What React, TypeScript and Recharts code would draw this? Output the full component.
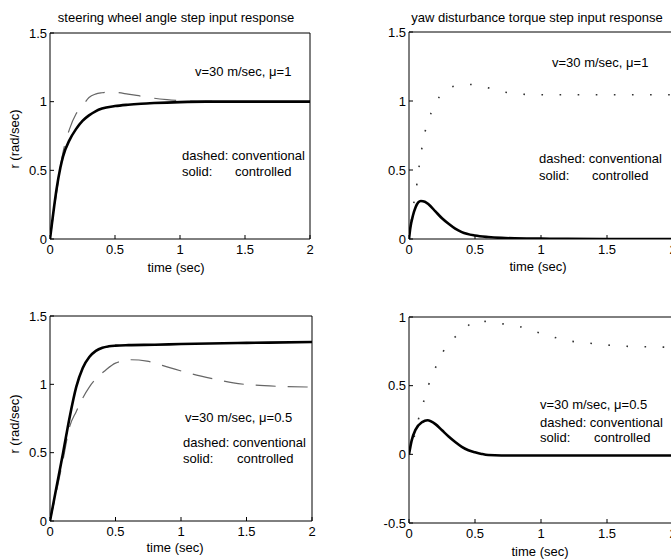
import React from 'react';
import { LineChart, Line, XAxis, YAxis, ReferenceLine } from 'recharts';

const xTicks = [0, 0.5, 1, 1.5, 2];
const yTicksPos = [0, 0.5, 1, 1.5];
const yTicksYawLow = [-0.5, 0, 0.5, 1];

// steering wheel angle step, mu = 1
const tSteerCtl1 = [0, 0.02, 0.05, 0.08, 0.1, 0.15, 0.2, 0.25, 0.3, 0.35, 0.4, 0.5, 0.6, 0.7, 0.8, 1, 1.2, 1.5, 2];
const rSteerCtl1 = [0, 0.15, 0.36, 0.52, 0.6, 0.72, 0.8, 0.86, 0.9, 0.93, 0.95, 0.968, 0.978, 0.985, 0.99, 0.997, 1.0, 1.0, 1.0];
const tSteerConv1 = [0, 0.03, 0.06, 0.1, 0.15, 0.2, 0.25, 0.3, 0.35, 0.4, 0.45, 0.5, 0.6, 0.7, 0.8, 0.9, 1, 1.2, 1.5, 2];
const rSteerConv1 = [0, 0.2, 0.4, 0.63, 0.8, 0.91, 0.97, 1.03, 1.055, 1.065, 1.07, 1.068, 1.055, 1.04, 1.025, 1.015, 1.008, 1.002, 1.0, 1.0];

// yaw disturbance torque step, mu = 1
const tYawCtl1 = [0, 0.01, 0.03, 0.05, 0.07, 0.09, 0.12, 0.15, 0.2, 0.25, 0.3, 0.35, 0.4, 0.5, 0.6, 0.7, 0.8, 1, 1.2, 1.5, 2];
const rYawCtl1 = [0, 0.08, 0.17, 0.23, 0.265, 0.275, 0.27, 0.25, 0.2, 0.15, 0.11, 0.075, 0.05, 0.025, 0.014, 0.008, 0.005, 0.003, 0.001, 0, 0];
const tYawConv1 = [0, 0.03, 0.06, 0.08, 0.12, 0.17, 0.23, 0.3, 0.38, 0.46, 0.58, 0.72, 0.85, 1, 1.25, 1.5, 1.75, 2];
const rYawConv1 = [0, 0.22, 0.4, 0.55, 0.77, 0.92, 1.03, 1.09, 1.115, 1.12, 1.1, 1.065, 1.05, 1.045, 1.045, 1.045, 1.045, 1.045];

// steering wheel angle step, mu = 0.5
const tSteerCtl05 = [0, 0.05, 0.1, 0.15, 0.2, 0.25, 0.3, 0.35, 0.4, 0.45, 0.5, 0.6, 0.8, 1, 1.5, 2];
const rSteerCtl05 = [0, 0.25, 0.5, 0.76, 0.98, 1.12, 1.2, 1.245, 1.268, 1.278, 1.283, 1.287, 1.29, 1.295, 1.303, 1.31];
const tSteerConv05 = [0, 0.05, 0.1, 0.15, 0.2, 0.25, 0.3, 0.36, 0.42, 0.5, 0.62, 0.74, 0.92, 1.07, 1.25, 1.4, 1.55, 1.75, 2];
const rSteerConv05 = [0, 0.22, 0.45, 0.69, 0.8, 0.9, 0.98, 1.05, 1.1, 1.155, 1.18, 1.17, 1.12, 1.08, 1.04, 1.01, 0.995, 0.985, 0.98];

// yaw disturbance torque step, mu = 0.5
const tYawCtl05 = [0, 0.02, 0.05, 0.1, 0.14, 0.2, 0.25, 0.3, 0.35, 0.4, 0.45, 0.5, 0.55, 0.6, 0.7, 1, 1.5, 2];
const rYawCtl05 = [0, 0.1, 0.18, 0.235, 0.248, 0.22, 0.175, 0.13, 0.09, 0.055, 0.03, 0.015, 0.003, -0.005, -0.008, -0.008, -0.008, -0.008];
const tYawConv05 = [0, 0.04, 0.07, 0.11, 0.15, 0.2, 0.26, 0.34, 0.44, 0.5, 0.6, 0.71, 0.84, 0.97, 1.09, 1.22, 1.36, 1.51, 1.64, 1.79, 2];
const rYawConv05 = [0, 0.13, 0.25, 0.38, 0.51, 0.63, 0.75, 0.845, 0.93, 0.975, 0.965, 0.95, 0.93, 0.89, 0.855, 0.825, 0.81, 0.795, 0.787, 0.783, 0.78];

const zip = (t: number[], v: number[]) => t.map((x, i) => ({ t: x, v: v[i] }));

const FONT = '"Liberation Sans", Arial, sans-serif';
const tickStyle = { fontSize: 13, fill: '#000', fontFamily: FONT };

interface PanelProps {
  left: number; top: number; width: number; height: number;
  yWidth: number; mTop: number; mRight: number; mBottom: number;
  yDomain: [number, number]; yTicks: number[];
  ctl: { t: number; v: number }[];
  conv: { t: number; v: number }[];
  convDash: string; convWidth: number; convColor: string;
}

function Panel(p: PanelProps) {
  return (
    <div style={{ position: 'absolute', left: p.left, top: p.top }}>
      <LineChart width={p.width} height={p.height}
        margin={{ top: p.mTop, right: p.mRight, bottom: p.mBottom, left: 0 }}>
        <XAxis dataKey="t" type="number" domain={[0, 2]} ticks={xTicks} allowDataOverflow
          stroke="#000" tick={tickStyle} tickSize={-4} tickMargin={10} height={20} />
        <YAxis type="number" domain={p.yDomain} ticks={p.yTicks} allowDataOverflow
          stroke="#000" tick={tickStyle} tickSize={-4} tickMargin={7} width={p.yWidth} />
        <ReferenceLine y={p.yDomain[1]} stroke="#000" />
        <ReferenceLine x={2} stroke="#000" />
        <Line data={p.conv} dataKey="v" type="monotone" stroke={p.convColor} strokeWidth={p.convWidth}
          strokeDasharray={p.convDash} dot={false} isAnimationActive={false} />
        <Line data={p.ctl} dataKey="v" type="monotone" stroke="#000" strokeWidth={2.6}
          dot={false} isAnimationActive={false} />
      </LineChart>
    </div>
  );
}

function Txt({ x, y, children, size = 13, center = false, rotate = false }:
  { x: number; y: number; children: React.ReactNode; size?: number; center?: boolean; rotate?: boolean }) {
  const tf = rotate ? 'translate(-50%,-50%) rotate(-90deg)' : center ? 'translate(-50%,-50%)' : 'translateY(-50%)';
  return (
    <div style={{
      position: 'absolute', left: x, top: y, transform: tf, whiteSpace: 'pre',
      fontSize: size, lineHeight: 1, fontFamily: FONT, color: '#000',
    }}>{children}</div>
  );
}

export default function App() {
  return (
    <div style={{ position: 'absolute', left: 0, top: 0, width: 671, height: 560, overflow: 'hidden', background: '#fff' }}>
      <Panel left={0} top={0} width={335} height={280} yWidth={50} mTop={33} mRight={25} mBottom={21}
        yDomain={[0, 1.5]} yTicks={yTicksPos} ctl={zip(tSteerCtl1, rSteerCtl1)} conv={zip(tSteerConv1, rSteerConv1)}
        convDash="22 14" convWidth={1.2} convColor="#666" />
      <Panel left={335} top={0} width={345} height={280} yWidth={74} mTop={32} mRight={7} mBottom={21}
        yDomain={[0, 1.5]} yTicks={yTicksPos} ctl={zip(tYawCtl1, rYawCtl1)} conv={zip(tYawConv1, rYawConv1)}
        convDash="1.6 16.5" convWidth={1.6} convColor="#333" />
      <Panel left={0} top={280} width={335} height={280} yWidth={50} mTop={36} mRight={23} mBottom={19}
        yDomain={[0, 1.5]} yTicks={yTicksPos} ctl={zip(tSteerCtl05, rSteerCtl05)} conv={zip(tSteerConv05, rSteerConv05)}
        convDash="20 12" convWidth={1.2} convColor="#666" />
      <Panel left={335} top={280} width={345} height={280} yWidth={74} mTop={37} mRight={7} mBottom={17}
        yDomain={[-0.5, 1]} yTicks={yTicksYawLow} ctl={zip(tYawCtl05, rYawCtl05)} conv={zip(tYawConv05, rYawConv05)}
        convDash="1.6 16.5" convWidth={1.6} convColor="#333" />

      <Txt x={176} y={17} center>steering wheel angle step input response</Txt>
      <Txt x={537} y={17} center>yaw disturbance torque step input response</Txt>

      <Txt x={14} y={139} rotate>r (rad/sec)</Txt>
      <Txt x={14} y={424} rotate>r (rad/sec)</Txt>

      <Txt x={176} y={267} center>time (sec)</Txt>
      <Txt x={538} y={266} center>time (sec)</Txt>
      <Txt x={175} y={547} center>time (sec)</Txt>
      <Txt x={540} y={551} center>time (sec)</Txt>

      <Txt x={195} y={71}>v=30 m/sec, μ=1</Txt>
      <Txt x={182} y={155}>dashed: conventional</Txt>
      <Txt x={182} y={171}>solid:</Txt>
      <Txt x={235} y={171}>controlled</Txt>

      <Txt x={552} y={62}>v=30 m/sec, μ=1</Txt>
      <Txt x={539} y={158}>dashed: conventional</Txt>
      <Txt x={539} y={175}>solid:</Txt>
      <Txt x={592} y={175}>controlled</Txt>

      <Txt x={185} y={417}>v=30 m/sec, μ=0.5</Txt>
      <Txt x={183} y={442}>dashed: conventional</Txt>
      <Txt x={183} y={458}>solid:</Txt>
      <Txt x={237} y={458}>controlled</Txt>

      <Txt x={540} y={404}>v=30 m/sec, μ=0.5</Txt>
      <Txt x={540} y={422}>dashed: conventional</Txt>
      <Txt x={540} y={437}>solid:</Txt>
      <Txt x={594} y={437}>controlled</Txt>
    </div>
  );
}
